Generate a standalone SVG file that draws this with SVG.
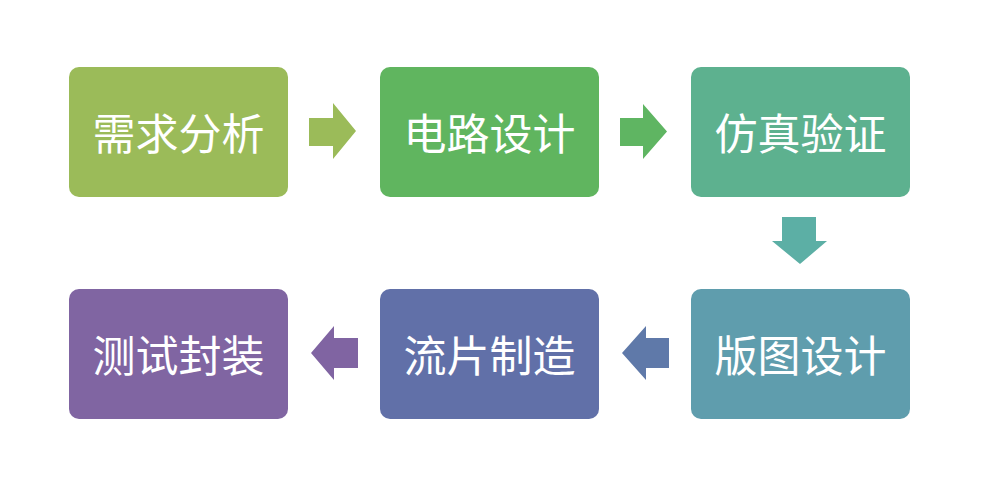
<svg xmlns="http://www.w3.org/2000/svg" width="996" height="493" viewBox="0 0 996 493">
<style>
text{font-family:"Noto Sans CJK SC","Noto Sans",sans-serif;font-size:43px;fill:#fff;text-anchor:middle;dominant-baseline:central}
</style>
<rect width="996" height="493" fill="#fff"/>
<g id="connectors">
<polygon points="309,118 333,118 333,103 356,131 333,159 333,146 309,146" fill="#9BBB59"/>
<polygon points="620,118 643,118 643,104 667,131.5 643,159 643,146 620,146" fill="#5FB562"/>
<polygon points="782,217 816,217 816,241 827,241 800,264 772,241 782,241" fill="#5CAFA5"/>
<polygon points="669,338 646,338 646,326 622,353 646,380 646,368 669,368" fill="#5F79A9"/>
<polygon points="358,338 334,338 334,326 311,353 334,380 334,368 358,368" fill="#8064A2"/>
</g>
<g id="n1"><rect x="69" y="67" width="219" height="130" rx="10" fill="#9BBB59"/><text x="178.5" y="131">需求分析</text></g>
<g id="n2"><rect x="380" y="67" width="219" height="130" rx="10" fill="#60B55F"/><text x="489.5" y="131">电路设计</text></g>
<g id="n3"><rect x="691" y="67" width="219" height="130" rx="10" fill="#5DB18F"/><text x="800.5" y="131">仿真验证</text></g>
<g id="n4"><rect x="691" y="289" width="219" height="130" rx="10" fill="#5F9DAD"/><text x="800.5" y="353">版图设计</text></g>
<g id="n5"><rect x="380" y="289" width="219" height="130" rx="10" fill="#6170A8"/><text x="489.5" y="353">流片制造</text></g>
<g id="n6"><rect x="69" y="289" width="219" height="130" rx="10" fill="#8065A2"/><text x="178.5" y="353">测试封装</text></g>
</svg>
